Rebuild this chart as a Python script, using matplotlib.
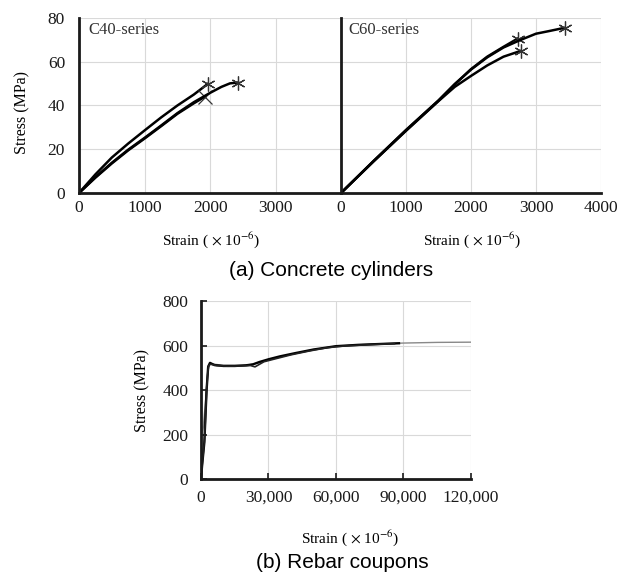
import matplotlib
matplotlib.use("Agg")
import matplotlib.pyplot as plt
from matplotlib.ticker import FuncFormatter

plt.rcParams['font.family'] = ['Liberation Serif', 'DejaVu Serif']
plt.rcParams['mathtext.fontset'] = 'stix'

# C40 cylinders (strain x1e-6, stress MPa)
c40_a_strain = [0, 250, 500, 750, 1000, 1250, 1500, 1750, 1968]
c40_a_stress = [0, 8.5, 16.2, 22.6, 28.6, 34.5, 40, 45, 50]
c40_b_strain = [0, 250, 500, 750, 1000, 1250, 1500, 1750, 1918]
c40_b_stress = [0, 7, 13.5, 19.5, 24.9, 30.5, 36.2, 41, 44]
c40_c_strain = [0, 250, 500, 750, 1000, 1250, 1500, 1750, 2000, 2170, 2300, 2425]
c40_c_stress = [0, 7.2, 13.8, 19.8, 25.2, 30.8, 36.5, 41.5, 45.8, 48.5, 50.1, 50.5]

# C60 cylinders
c60_a_strain = [0, 500, 1000, 1500, 1750, 2000, 2250, 2500, 2720]
c60_a_stress = [0, 14.5, 28.6, 42.2, 49.6, 56.6, 62.3, 66.8, 70.6]
c60_b_strain = [0, 500, 1000, 1500, 1750, 2000, 2250, 2500, 2770]
c60_b_stress = [0, 14.4, 28.4, 42, 48.5, 53.5, 58.3, 62.3, 65]
c60_c_strain = [0, 500, 1000, 1500, 1750, 2000, 2250, 2500, 2750, 3000, 3200, 3440]
c60_c_stress = [0, 14.6, 28.8, 42.3, 49.8, 56.4, 62, 66.5, 69.8, 72.8, 74, 75.5]

# rebar coupons
rebar_a_strain = [0, 500, 1500, 2500, 3200, 4000, 6000, 10000, 15000, 20000, 23000,
                  26000, 30000, 35000, 42000, 50000, 60000, 70000, 80000, 88000]
rebar_a_stress = [0, 60, 165, 400, 505, 522, 512, 508, 508, 511, 515,
                  526, 538, 551, 566, 582, 597, 603, 607, 610]
rebar_b_strain = [0, 600, 1600, 2600, 3300, 4200, 7000, 12000, 18000, 22000, 24000,
                  28000, 33000, 40000, 48000, 56000, 64000, 72000, 80000, 86000]
rebar_b_stress = [0, 70, 180, 420, 508, 516, 510, 507, 508, 510, 504,
                  527, 540, 558, 575, 590, 598, 602, 606, 608]
rebar_c_strain = [0, 300, 1000, 2000, 3000, 3800, 5000, 10000, 20000, 25000, 30000, 40000,
                  50000, 60000, 75000, 90000, 105000, 120000]
rebar_c_stress = [0, 200, 230, 350, 480, 515, 517, 511, 511, 520, 535, 560,
                  582, 597, 606, 611, 614, 615]

fig = plt.figure(figsize=(6.31, 5.74), dpi=100)

ax1 = fig.add_axes([0.1252, 0.6638, 0.416, 0.3049])
ax2 = fig.add_axes([0.5404, 0.6638, 0.412, 0.3049])
ax3 = fig.add_axes([0.3185, 0.1655, 0.4279, 0.3101])

star = (6, 2, 0)


def style(ax, xt, yt, xpad, ypad, tick_len):
    ax.set_xticks(xt)
    ax.set_yticks(yt)
    ax.grid(True, color='#d9d9d9', lw=0.8)
    ax.set_axisbelow(True)
    for s in ['top', 'right']:
        ax.spines[s].set_visible(False)
    for s in ['left', 'bottom']:
        ax.spines[s].set_linewidth(2)
        ax.spines[s].set_color('#1a1a1a')
    ax.tick_params(direction='in', length=tick_len, width=1.2, labelsize=12.5,
                   colors='#1a1a1a')
    ax.tick_params(axis='x', pad=xpad)
    ax.tick_params(axis='y', pad=ypad)


# C40
for xs, ys, mk in [(c40_a_strain, c40_a_stress, star), (c40_b_strain, c40_b_stress, 'x'),
                   (c40_c_strain, c40_c_stress, star)]:
    ax1.plot(xs, ys, color='black', lw=1.8, solid_joinstyle='round')
    ax1.plot(xs[-1], ys[-1], marker=mk, ms=10, color='#333333', mew=0.9, ls='none')
ax1.set_xlim(0, 4000)
ax1.set_ylim(0, 80)
style(ax1, [0, 1000, 2000, 3000, 4000], [0, 20, 40, 60, 80], 5, 10, 0)
ax1.set_xticklabels(['0', '1000', '2000', '3000', ''])
ax1.text(0.035, 0.93, 'C40-series', transform=ax1.transAxes, fontsize=12,
         color='#333333', va='center')

# C60
for xs, ys in [(c60_a_strain, c60_a_stress), (c60_b_strain, c60_b_stress),
               (c60_c_strain, c60_c_stress)]:
    ax2.plot(xs, ys, color='black', lw=1.8, solid_joinstyle='round')
    ax2.plot(xs[-1], ys[-1], marker=star, ms=10, color='#333333', mew=0.9, ls='none')
ax2.set_xlim(0, 4000)
ax2.set_ylim(0, 80)
style(ax2, [0, 1000, 2000, 3000, 4000], [0, 20, 40, 60, 80], 5, 10, 0)
ax2.set_yticklabels([])
ax2.text(0.03, 0.93, 'C60-series', transform=ax2.transAxes, fontsize=12,
         color='#333333', va='center')

# rebar
ax3.plot(rebar_c_strain, rebar_c_stress, color='#888888', lw=1.0)
ax3.plot(rebar_a_strain, rebar_a_stress, color='black', lw=1.7)
ax3.plot(rebar_b_strain, rebar_b_stress, color='#222222', lw=1.2)
ax3.set_xlim(0, 120000)
ax3.set_ylim(0, 800)
style(ax3, [0, 30000, 60000, 90000, 120000], [0, 200, 400, 600, 800], 8, 9, 4)
ax3.xaxis.set_major_formatter(FuncFormatter(lambda v, p: f'{v:,.0f}'))

strain_lbl = r'Strain ( $\times$ 10$^{-6}$)'
fig.text(211 / 631, 1 - 240 / 574, strain_lbl, ha='center', va='center', fontsize=11)
fig.text(472 / 631, 1 - 240 / 574, strain_lbl, ha='center', va='center', fontsize=11)
fig.text(350 / 631, 1 - 538 / 574, strain_lbl, ha='center', va='center', fontsize=11)
fig.text(22 / 631, 1 - 112 / 574, 'Stress (MPa)', rotation=90, ha='center', va='center',
         fontsize=11.5)
fig.text(142 / 631, 1 - 390 / 574, 'Stress (MPa)', rotation=90, ha='center', va='center',
         fontsize=11.5)
fig.text(331 / 631, 1 - 270 / 574, '(a) Concrete cylinders', ha='center', va='center',
         fontsize=15, family='Liberation Sans')
fig.text(342 / 631, 1 - 563 / 574, '(b) Rebar coupons', ha='center', va='center',
         fontsize=15, family='Liberation Sans')

plt.savefig('out.png', dpi=100)
